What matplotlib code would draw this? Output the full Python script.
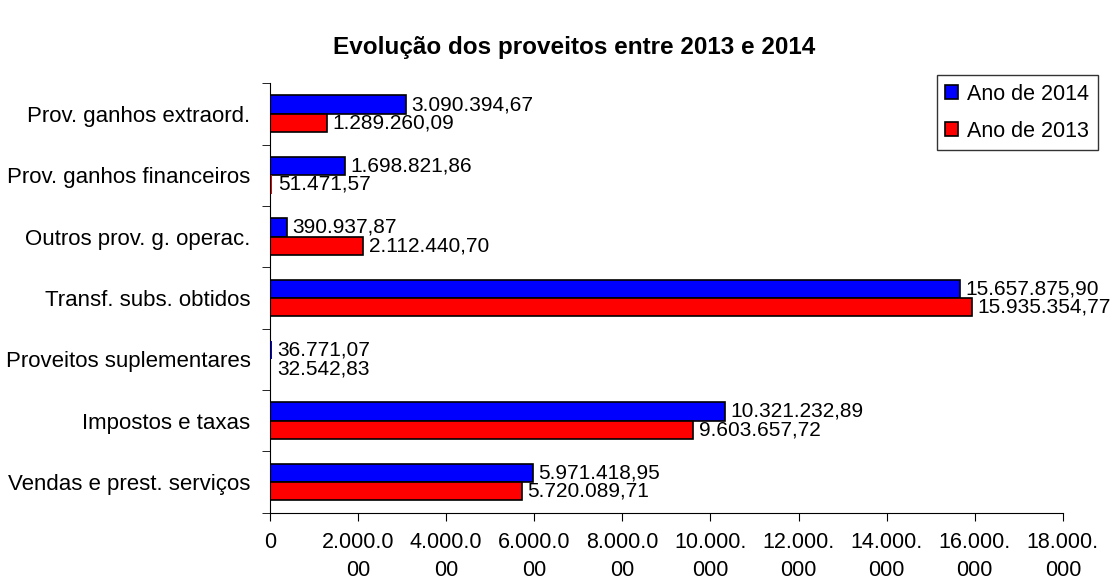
import numpy as np
import matplotlib.pyplot as plt

plt.rcParams['font.family'] = ['Liberation Sans', 'DejaVu Sans']

categories = ["Vendas e prest. serviços", "Impostos e taxas", "Proveitos suplementares",
              "Transf. subs. obtidos", "Outros prov. g. operac.", "Prov. ganhos financeiros",
              "Prov. ganhos extraord."]
ano_2014 = [5971418.95, 10321232.89, 36771.07, 15657875.90, 390937.87, 1698821.86, 3090394.67]
ano_2013 = [5720089.71, 9603657.72, 32542.83, 15935354.77, 2112440.70, 51471.57, 1289260.09]
x_ticks = [0, 2e6, 4e6, 6e6, 8e6, 10e6, 12e6, 14e6, 16e6, 18e6]
x_ticklabels = ["0", "2.000.0\n00", "4.000.0\n00", "6.000.0\n00", "8.000.0\n00",
                "10.000.\n000", "12.000.\n000", "14.000.\n000", "16.000.\n000", "18.000.\n000"]


def fmt_pt(v):
    s = f"{v:,.2f}"
    return s.replace(",", "X").replace(".", ",").replace("X", ".")


fig = plt.figure(figsize=(11.2, 5.82), dpi=100)
ax = fig.add_axes([0.241, 0.119, 0.708, 0.738])

y = np.arange(len(categories))
h = 0.3
b14 = ax.barh(y + h / 2, ano_2014, height=h, color='#0000FF', edgecolor='black', linewidth=1.2, label="Ano de 2014")
b13 = ax.barh(y - h / 2, ano_2013, height=h, color='#FF0000', edgecolor='black', linewidth=1.2, label="Ano de 2013")
# very small bars are not visible in the original
for bars, vals in ((b14, ano_2014), (b13, ano_2013)):
    for r, v in zip(bars, vals):
        if v < 100000:
            r.set_linewidth(0)
ax.bar_label(b14, labels=[fmt_pt(v) for v in ano_2014], padding=4, fontsize=15)
ax.bar_label(b13, labels=[fmt_pt(v) for v in ano_2013], padding=4, fontsize=15)

ax.set_xlim(0, 18e6)
ax.set_ylim(-0.5, len(categories) - 0.5)
ax.set_xticks(x_ticks)
ax.set_xticklabels(x_ticklabels, fontsize=15.5, linespacing=1.4)
ax.set_yticks(y)
ax.set_yticklabels(categories, fontsize=16)
ax.set_yticks(np.arange(-0.5, len(categories), 1.0), minor=True)
ax.tick_params(axis='y', which='major', length=0, pad=14)
ax.tick_params(axis='y', which='minor', length=6, direction='out')
ax.tick_params(axis='x', length=6, direction='out', pad=8)
for s in ['top', 'right']:
    ax.spines[s].set_visible(False)

fig.text(0.513, 0.918, "Evolução dos proveitos entre 2013 e 2014", fontsize=17.5,
         fontweight='bold', ha='center', va='center')

leg = fig.legend(handles=[b14, b13], loc='upper right', bbox_to_anchor=(0.98, 0.871),
                 borderaxespad=0, fontsize=15.5, frameon=True, fancybox=False, edgecolor='black',
                 handlelength=0.6, handleheight=0.6, handletextpad=0.4, borderpad=0.4,
                 labelspacing=0.75)
leg.get_frame().set_linewidth(1.0)

fig.savefig("out.png", dpi=100)
